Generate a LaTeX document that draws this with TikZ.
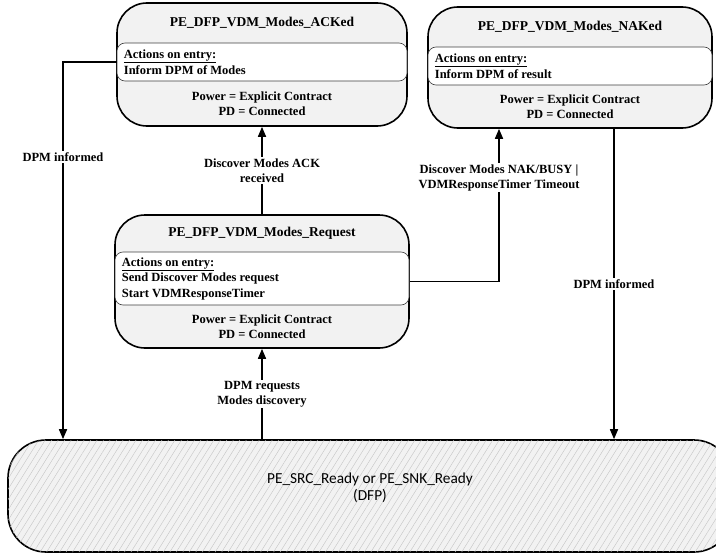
\documentclass[tikz,border=0pt]{standalone}
\usepackage{fontspec}
\setmainfont{Liberation Serif}
\newfontfamily\readyfont{Carlito}
\usetikzlibrary{arrows.meta,positioning,calc,patterns.meta}
\definecolor{StateFill}{HTML}{F2F2F2}
\definecolor{Ink}{HTML}{000000}
\definecolor{Hatch}{HTML}{C4C4C4}
\tikzset{
  state/.style={draw=Ink,fill=StateFill,rounded corners=30pt,line width=1.6pt},
  band/.style={draw=Ink!75,fill=white,rounded corners=8pt,line width=0.6pt},
  title/.style={font=\fontsize{13.5}{16}\selectfont\bfseries,text=Ink},
  acts/.style={font=\fontsize{12.5}{15.5}\selectfont\bfseries,align=left,text=Ink,inner sep=0pt},
  cond/.style={font=\fontsize{12.5}{15}\selectfont\bfseries,align=center,text=Ink,inner sep=0pt},
  lbl/.style={fill=white,font=\fontsize{12.5}{15}\selectfont\bfseries,align=center,text=Ink,inner sep=1.5pt},
  arr/.style={-{Triangle[length=10pt,width=8pt]},draw=Ink,line width=1.6pt},
  ready/.style={draw=Ink,fill=StateFill,rounded corners=38pt,line width=1.6pt,
    postaction={pattern={Lines[angle=58,distance=5.5pt,line width=0.4pt]},pattern color=Hatch}},
  readytext/.style={font=\readyfont\fontsize{15.3}{17}\selectfont,align=center,text=Ink,inner sep=0pt}
}
\begin{document}
\begin{tikzpicture}[x=1pt,y=-1pt]
  \useasboundingbox (0,0) rectangle (716,554);
  % states
  \node[state,minimum width=290,minimum height=123] (ack) at (262,64.5) {};
  \node[band,minimum width=290,minimum height=38] (ackact) at (262,62) {};
  \node[title] (acktitle) at ($(ack.north)!0.5!(ackact.north)$) {PE\_DFP\_VDM\_Modes\_ACKed};
  \node[acts,right=7pt of ackact.west] (ackdo) {\underline{Actions on entry:}\\Inform DPM of Modes};
  \node[cond] (ackcond) at ($(ackact.south)!0.5!(ack.south)$) {Power = Explicit Contract\\PD = Connected};

  \node[state,minimum width=284,minimum height=121] (nak) at (570,67.5) {};
  \node[band,minimum width=284,minimum height=38] (nakact) at (570,66) {};
  \node[title] (naktitle) at ($(nak.north)!0.5!(nakact.north)$) {PE\_DFP\_VDM\_Modes\_NAKed};
  \node[acts,right=7pt of nakact.west] (nakdo) {\underline{Actions on entry:}\\Inform DPM of result};
  \node[cond] (nakcond) at ($(nakact.south)!0.5!(nak.south)$) {Power = Explicit Contract\\PD = Connected};

  \node[state,minimum width=294,minimum height=133] (req) at (262,281.5) {};
  \node[band,minimum width=294,minimum height=53] (reqact) at (262,278.5) {};
  \node[title] (reqtitle) at ($(req.north)!0.5!(reqact.north)$) {PE\_DFP\_VDM\_Modes\_Request};
  \node[acts,right=7pt of reqact.west] (reqdo) {\underline{Actions on entry:}\\Send Discover Modes request\\Start VDMResponseTimer};
  \node[cond] (reqcond) at ($(reqact.south)!0.5!(req.south)$) {Power = Explicit Contract\\PD = Connected};

  \node[ready,minimum width=724,minimum height=112] (rdy) at (370,496) {};
  \node[readytext] (rdytext) at ([yshift=8pt]rdy.center) {PE\_SRC\_Ready or PE\_SNK\_Ready\\(DFP)};

  % columns of the vertical connectors
  \coordinate (lcol) at (63,0);
  \coordinate (ncol) at (499,0);
  \coordinate (rcol) at (614,0);

  % transitions
  \draw[arr] (ackact.west) -| (rdy.north -| lcol) node[lbl,pos=0.626] {DPM informed};
  \draw[arr] (req.north) -- (ack.south) node[lbl,midway] {Discover Modes ACK\\received};
  \draw[arr] (req.east) -| (nak.south -| ncol) node[lbl,pos=0.84] {Discover Modes NAK/BUSY |\\VDMResponseTimer Timeout};
  \draw[arr] (nak.south -| rcol) -- (rdy.north -| rcol) node[lbl,midway] {DPM informed};
  \draw[arr] (rdy.north -| req) -- (req.south) node[lbl,midway] {DPM requests\\Modes discovery};
\end{tikzpicture}
\end{document}
